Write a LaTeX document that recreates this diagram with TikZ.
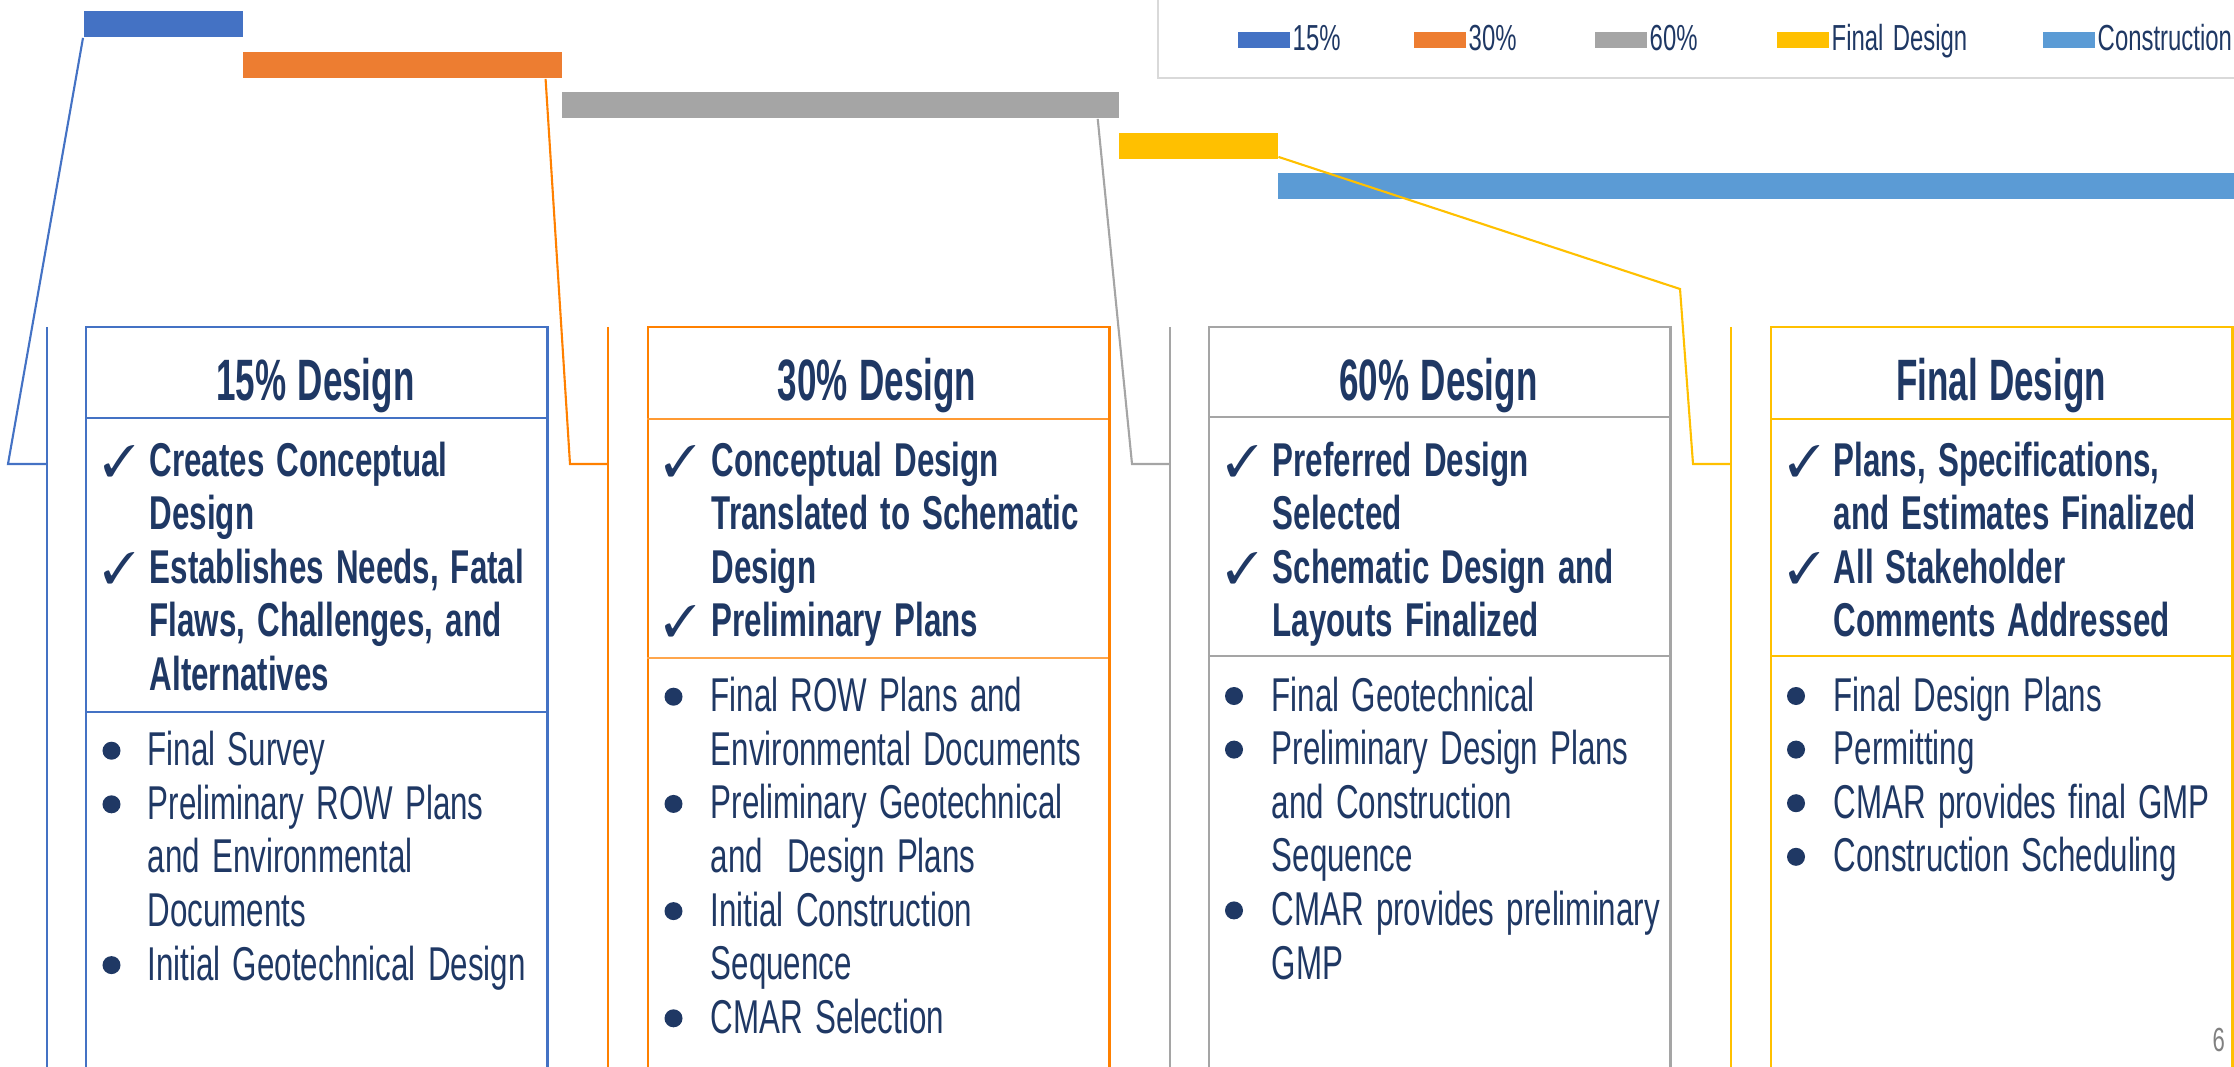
\documentclass[tikz,border=0pt]{standalone}
\usepackage{fontspec}
\usepackage{pifont}
\setmainfont{Liberation Sans}[FakeStretch=0.66,WordSpace=1.4]
\newfontfamily\headfont{Liberation Sans}[FakeStretch=0.6,WordSpace=1.15]

\definecolor{navy}{RGB}{31,56,100}
\definecolor{cfifteen}{RGB}{68,114,196}
\definecolor{cthirty}{RGB}{237,125,49}
\definecolor{lthirty}{RGB}{255,128,0}
\definecolor{csixty}{RGB}{165,165,165}
\definecolor{cfinal}{RGB}{255,192,0}
\definecolor{cbuild}{RGB}{91,155,213}
\definecolor{lframe}{RGB}{217,217,217}

\tikzset{
  bar/.style={rectangle,inner sep=0pt,anchor=north west,minimum height=0.265cm},
  swatch/.style={rectangle,inner sep=0pt,anchor=north west,minimum width=0.52cm,minimum height=0.16cm},
  keytext/.style={text=navy,inner sep=0pt,anchor=base west,font=\fontsize{10.3}{12}\selectfont},
  phasebox/.style={rectangle,inner sep=0pt,anchor=north west,line width=0.7pt,minimum width=4.61cm,minimum height=7.6cm},
  divider/.style={line width=0.45pt},
  rail/.style={line width=0.6pt},
  link/.style={line width=0.6pt},
  title/.style={text=navy,inner sep=0pt,anchor=base,font=\headfont\bfseries\fontsize{16.6}{20}\selectfont},
  goals/.style={text=navy,inner sep=0pt,anchor=base west,align=flush left,text width=5cm,font=\bfseries\fontsize{13.5}{15.25}\selectfont},
  tasks/.style={text=navy,inner sep=0pt,anchor=base west,align=flush left,text width=5cm,font=\fontsize{13.5}{15.25}\selectfont},
  tick/.style={text=navy,inner sep=0pt,anchor=base west,font=\fontsize{12.5}{12.5}\selectfont},
  dot/.style={circle,fill=navy,inner sep=0pt,minimum size=0.18cm}
}

\begin{document}
\begin{tikzpicture}[x=0.01cm,y=-0.01cm]
  \useasboundingbox (0,0) rectangle (2234,1067);

  % schedule bars
  \node[bar,fill=cfifteen,minimum width=1.59cm] (bar15) at (83,10) {};
  \node[bar,fill=cthirty,minimum width=3.19cm] (bar30) at (242,51) {};
  \node[bar,fill=csixty,minimum width=5.57cm] (bar60) at (561,91) {};
  \node[bar,fill=cfinal,minimum width=1.59cm] (barfinal) at (1118,132) {};
  \node[bar,fill=cbuild,minimum width=9.6cm] (barbuild) at (1277,172) {};

  % legend
  \draw[lframe,line width=0.7pt] (1158,-10) -- (1158,78) -- (2250,78);
  \foreach \xx/\col/\lbl [count=\i] in {1237/cfifteen/15\%,1413/cthirty/30\%,1594/csixty/60\%,1776/cfinal/Final Design,2042/cbuild/Construction}{
    \node[swatch,fill=\col] (key\i) at (\xx,31) {};
    \node[keytext] (keylabel\i) at (\xx+55,51) {\lbl};
  }

  % rails left of the boxes
  \draw[rail,cfifteen] (47,327) -- (47,1080);
  \draw[rail,lthirty] (608,327) -- (608,1080);
  \draw[rail,csixty] (1170,327) -- (1170,1080);
  \draw[rail,cfinal] (1731,327) -- (1731,1080);
  \coordinate (rail15) at (47,464);
  \coordinate (rail30) at (608,464);
  \coordinate (rail60) at (1170,464);
  \coordinate (railfinal) at (1731,464);

  % bars to rails
  \draw[link,cfifteen] (bar15.south west) -- (8,464) -- (rail15);
  \draw[link,lthirty] ([xshift=-0.17cm]bar30.south east) -- (570,464) -- (rail30);
  \draw[link,csixty] ([xshift=-0.22cm]bar60.south east) -- (1132,464) -- (rail60);
  \draw[link,cfinal] ([yshift=0.03cm]barfinal.south east) -- (1680,289) -- (1693,464) -- (railfinal);

  % phase boxes
  \node[phasebox,draw=cfifteen] (box15) at (85,326) {};
  \node[phasebox,draw=lthirty] (box30) at (647,326) {};
  \node[phasebox,draw=csixty] (box60) at (1208,326) {};
  \node[phasebox,draw=cfinal] (boxfinal) at (1770,326) {};
  \draw[divider,cfifteen] (85,418) -- (546,418);
  \draw[divider,cfifteen] (85,712) -- (546,712);
  \draw[divider,lthirty!80] (647,419) -- (1108,419);
  \draw[divider,lthirty!70] (647,658) -- (1108,658);
  \draw[divider,csixty] (1208,417) -- (1669,417);
  \draw[divider,csixty] (1208,656) -- (1669,656);
  \draw[divider,cfinal] (1770,419) -- (2231,419);
  \draw[divider,cfinal] (1770,656) -- (2231,656);

  % titles
  \node[title] (title15) at (315.5,400) {15\% Design};
  \node[title] (title30) at (877,400) {30\% Design};
  \node[title] (title60) at (1438.5,400) {60\% Design};
  \node[title] (titlefinal) at (2001,400) {Final Design};

  % 15%
  \node[goals] (goals15) at (149,476) {Creates Conceptual\\Design\\Establishes Needs, Fatal\\Flaws, Challenges, and\\Alternatives};
  \foreach \k in {0,2} \node[tick] (tick15\k) at (102,476+53.6*\k) {\ding{51}};
  \node[tasks] (tasks15) at (147,765.7) {Final Survey\\Preliminary ROW Plans\\and Environmental\\Documents\\Initial Geotechnical Design};
  \foreach \k in {0,1,4} \node[dot] (dot15\k) at (111.5,750.7+53.6*\k) {};

  % 30%
  \node[goals] (goals30) at (711,476) {Conceptual Design\\Translated to Schematic\\Design\\Preliminary Plans};
  \foreach \k in {0,3} \node[tick] (tick30\k) at (663,476+53.6*\k) {\ding{51}};
  \node[tasks] (tasks30) at (710,711.7) {Final ROW Plans and\\Environmental Documents\\Preliminary Geotechnical\\and\ \ Design Plans\\Initial Construction\\Sequence\\CMAR Selection};
  \foreach \k in {0,2,4,6} \node[dot] (dot30\k) at (673.5,696.7+53.6*\k) {};

  % 60%
  \node[goals] (goals60) at (1272,476) {Preferred Design\\Selected\\Schematic Design and\\Layouts Finalized};
  \foreach \k in {0,2} \node[tick] (tick60\k) at (1225,476+53.6*\k) {\ding{51}};
  \node[tasks] (tasks60) at (1271,711) {Final Geotechnical\\Preliminary Design Plans\\and Construction\\Sequence\\CMAR provides preliminary\\GMP};
  \foreach \k in {0,1,4} \node[dot] (dot60\k) at (1234,696+53.6*\k) {};

  % final design
  \node[goals] (goalsfinal) at (1833,476) {Plans, Specifications,\\and Estimates Finalized\\All Stakeholder\\Comments Addressed};
  \foreach \k in {0,2} \node[tick] (tickfinal\k) at (1787,476+53.6*\k) {\ding{51}};
  \node[tasks] (tasksfinal) at (1833,711) {Final Design Plans\\Permitting\\CMAR provides final GMP\\Construction Scheduling};
  \foreach \k in {0,1,2,3} \node[dot] (dotfinal\k) at (1796,696+53.6*\k) {};

  \node[text=black!50,inner sep=0pt,anchor=base west,font=\fontsize{9.5}{10}\selectfont] (pageno) at (2212,1051) {6};
\end{tikzpicture}
\end{document}
